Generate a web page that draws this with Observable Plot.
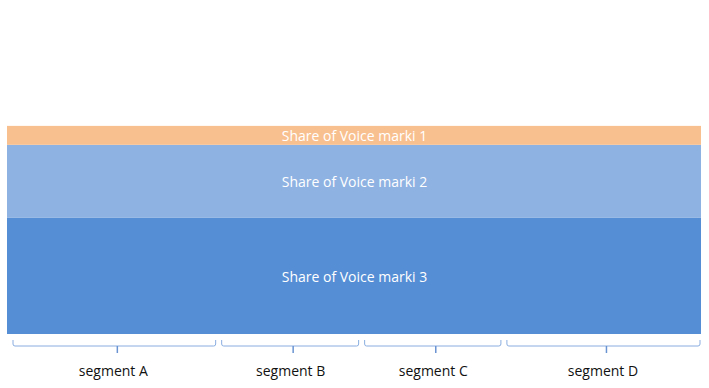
<!DOCTYPE html>
<html>
<head>
<meta charset="utf-8">
<script src="https://cdn.jsdelivr.net/npm/d3@7"></script>
<script src="https://cdn.jsdelivr.net/npm/@observablehq/plot@0.6"></script>
<style>
  html, body { margin: 0; padding: 0; background: #fff; }
  #chart svg { display: block; }
</style>
</head>
<body>
<div id="chart"></div>
<script>
// Segments along x (share of width)
const segments = ["segment A", "segment B", "segment C", "segment D"];
const segmentShares = [30.5, 20.6, 20.5, 28.4];

// Brands stacked vertically (share of voice)
const brands = ["Share of Voice marki 3", "Share of Voice marki 2", "Share of Voice marki 1"];
const brandShares = [55.8, 35.1, 9.1];
const brandColors = ["#558ED5", "#8EB2E2", "#F9C08F"];

// build tables
let acc = 0;
const segTable = segments.map((s, i) => {
  const d = {segment: s, x1: acc, x2: acc + segmentShares[i]};
  acc += segmentShares[i];
  d.mid = (d.x1 + d.x2) / 2;
  return d;
});
const xTotal = acc;
let yacc = 0;
const bandTable = brands.map((b, i) => {
  const d = {brand: b, y1: yacc, y2: yacc + brandShares[i], color: brandColors[i]};
  yacc += brandShares[i];
  d.mid = (d.y1 + d.y2) / 2;
  return d;
});

const W = 709, H = 388;

// custom mark: curly braces under each segment, positioned through the x scale
function braces(index, scales, values, dims) {
  const g = d3.create("svg:g").attr("fill", "none");
  const yTop = dims.height - dims.marginBottom + 6;
  const yLine = yTop + 6;
  const yTick = yLine + 7;
  segTable.forEach((d, i) => {
    const a = scales.x(d.x1) + (i === 0 ? 6 : 3);
    const b = scales.x(d.x2) - (i === segTable.length - 1 ? 1 : 3);
    const m = (a + b) / 2 + 3;
    const r = 2;
    g.append("path")
      .attr("stroke", "#8AAEE0").attr("stroke-width", 1)
      .attr("d", `M${a},${yTop} L${a},${yLine - r} Q${a},${yLine} ${a + r},${yLine} L${b - r},${yLine} Q${b},${yLine} ${b},${yLine - r} L${b},${yTop}`);
    g.append("path")
      .attr("stroke", "#6A93D2").attr("stroke-width", 1.5)
      .attr("d", `M${m},${yLine} L${m},${yTick}`);
  });
  return g.node();
}

const chart = Plot.plot({
  width: W,
  height: H,
  marginLeft: 7,
  marginRight: 8,
  marginTop: 1,
  marginBottom: 54,
  x: {domain: [0, xTotal], axis: null},
  y: {domain: [0, 160], axis: null},
  style: {fontFamily: "'Open Sans', sans-serif", background: "#fff"},
  marks: [
    Plot.rect(bandTable, {x1: 0, x2: xTotal, y1: "y1", y2: "y2", fill: "color"}),
    Plot.text(bandTable, {x: xTotal / 2, y: "mid", text: "brand", fill: "white", fontSize: 14, dy: 1}),
    braces,
    Plot.text(segTable, {x: "mid", text: "segment", frameAnchor: "bottom", dy: 41, fill: "#111", fontSize: 14})
  ]
});
document.getElementById("chart").appendChild(chart);
</script>
</body>
</html>
